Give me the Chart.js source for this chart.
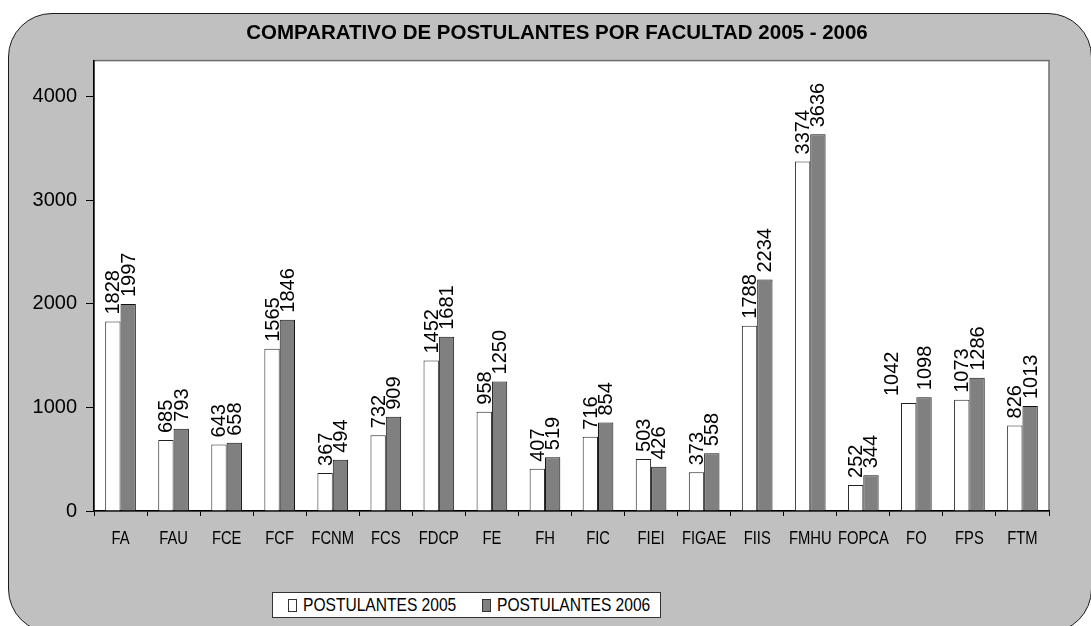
<!DOCTYPE html>
<html>
<head>
<meta charset="utf-8">
<script src="https://cdn.jsdelivr.net/npm/chart.js@4/dist/chart.umd.min.js"></script>
<style>
  html, body { margin: 0; padding: 0; width: 1091px; height: 626px; overflow: hidden; background: #ffffff; }
  #frame {
    position: absolute; left: 8px; top: 13px; width: 1084px; height: 620px;
    box-sizing: border-box; border: 1.5px solid #1a1a1a; border-radius: 44px;
    background: #c0c0c0;
  }
  #c { position: absolute; left: 0; top: 0; }
  #legend {
    position: absolute; left: 272px; top: 592px; width: 389px; height: 26px;
    box-sizing: border-box; border: 1px solid #333; background: #fff;
    font-family: "Liberation Sans", Arial, sans-serif;
    font-size: 19px; color: #000;
  }
  .sw { position: absolute; top: 6px; width: 7px; height: 11px; border: 1px solid #333; box-sizing: content-box; }
  .lbl { position: absolute; top: 0; line-height: 24px; white-space: nowrap; transform: scaleX(0.82); transform-origin: 0 50%; }
</style>
</head>
<body>
<div id="frame"></div>
<canvas id="c" width="1091" height="626"></canvas>
<div id="legend"></div>
<script>
const categories = ["FA","FAU","FCE","FCF","FCNM","FCS","FDCP","FE","FH","FIC","FIEI","FIGAE","FIIS","FMHU","FOPCA","FO","FPS","FTM"];
const values2005 = [1828,685,643,1565,367,732,1452,958,407,716,503,373,1788,3374,252,1042,1073,826];
const values2006 = [1997,793,658,1846,494,909,1681,1250,519,854,426,558,2234,3636,344,1098,1286,1013];
const seriesNames = ["POSTULANTES 2005","POSTULANTES 2006"];
const yTickValues = [0,1000,2000,3000,4000];
const chartTitle = "COMPARATIVO DE POSTULANTES POR FACULTAD 2005 - 2006";

const fillColors = ["#ffffff", "#808080"];
const borderColors = ["#222222", "#111111"];

// HTML legend
const legendEl = document.getElementById('legend');
const legendPos = [[15, 30], [209, 224]];
seriesNames.forEach((name, i) => {
  const sw = document.createElement('div');
  sw.className = 'sw';
  sw.style.left = legendPos[i][0] + 'px';
  sw.style.background = fillColors[i];
  legendEl.appendChild(sw);
  const t = document.createElement('div');
  t.className = 'lbl';
  t.style.left = legendPos[i][1] + 'px';
  t.textContent = name;
  legendEl.appendChild(t);
});

const plotBg = {
  id: 'plotBg',
  beforeDraw(chart) {
    const {ctx, chartArea: a} = chart;
    ctx.save();
    ctx.fillStyle = '#ffffff';
    ctx.fillRect(a.left, a.top, a.right - a.left, a.bottom - a.top);
    ctx.strokeStyle = '#6e6e6e';
    ctx.lineWidth = 1.5;
    ctx.strokeRect(a.left, a.top, a.right - a.left, a.bottom - a.top);
    ctx.restore();
  }
};

// widen y label clip area; draw x tick labels horizontally condensed (Arial Narrow look)
const axisTweaks = {
  id: 'axisTweaks',
  afterLayout(chart) {
    const y = chart.scales.y;
    y.left = 0; y.width = y.right;
    const xs = chart.scales.x;
    if (!xs._narrowWrapped) {
      const orig = xs.drawLabels.bind(xs);
      xs.drawLabels = function(area) {
        const ctx = this.ctx;
        const of = ctx.fillText;
        ctx.fillText = function(t, x, yy) {
          this.save(); this.translate(x, yy); this.scale(0.82, 1); of.call(this, t, 0, 0); this.restore();
        };
        try { orig(area); } finally { delete ctx.fillText; }
      };
      xs._narrowWrapped = true;
    }
  }
};

const valueLabels = {
  id: 'valueLabels',
  afterDatasetsDraw(chart, args, opts) {
    const {ctx} = chart;
    ctx.save();
    ctx.font = '20px "Liberation Sans", Arial, sans-serif';
    ctx.fillStyle = '#000';
    ctx.textAlign = 'left';
    ctx.textBaseline = 'middle';
    chart.data.datasets.forEach((ds, di) => {
      const meta = chart.getDatasetMeta(di);
      meta.data.forEach((el, i) => {
        const shift = (opts.shift && opts.shift[di + ':' + i]) || 0;
        ctx.save();
        ctx.translate(el.x + 1 + shift, el.y - 7);
        ctx.rotate(-Math.PI / 2);
        ctx.fillText(String(ds.data[i]), 0, 0);
        ctx.restore();
      });
    });
    ctx.restore();
  }
};

new Chart(document.getElementById('c'), {
  type: 'bar',
  data: {
    labels: categories,
    datasets: [
      { label: seriesNames[0], data: values2005, backgroundColor: fillColors[0], borderColor: borderColors[0], borderWidth: 1 },
      { label: seriesNames[1], data: values2006, backgroundColor: fillColors[1], borderColor: borderColors[1], borderWidth: 1 }
    ]
  },
  options: {
    responsive: false,
    animation: false,
    events: [],
    layout: { padding: { left: 65, right: 42, top: 0, bottom: 0 } },
    datasets: { bar: { categoryPercentage: 0.578, barPercentage: 1.0 } },
    plugins: {
      legend: { display: false },
      tooltip: { enabled: false },
      title: {
        display: true,
        text: chartTitle,
        color: '#000',
        font: { family: '"Liberation Sans", Arial, sans-serif', size: 20.5, weight: 'bold' },
        padding: { top: 21, bottom: 15 }
      },
      valueLabels: { shift: { '0:15': -17 } }
    },
    scales: {
      x: {
        grid: { display: true, drawOnChartArea: false, drawTicks: true, tickLength: 5, color: '#000', offset: true },
        border: { display: true, color: '#000', width: 1.5 },
        ticks: {
          color: '#000', padding: 12, maxRotation: 0, autoSkip: false,
          font: { family: '"Liberation Sans", Arial, sans-serif', size: 18 }
        },
        afterFit(scale) { scale.height = 115; }
      },
      y: {
        min: 0, max: 4347,
        grid: { display: true, drawOnChartArea: false, drawTicks: true, tickLength: 8, color: '#000' },
        border: { display: true, color: '#000', width: 1.5 },
        ticks: {
          color: '#000', padding: 9,
          font: { family: '"Liberation Sans", Arial, sans-serif', size: 20 },
          callback: (v) => String(v)
        },
        afterBuildTicks(scale) { scale.ticks = yTickValues.map(v => ({ value: v })); },
        afterFit(scale) { scale.width = 29; }
      }
    }
  },
  plugins: [plotBg, axisTweaks, valueLabels]
});
</script>
</body>
</html>
